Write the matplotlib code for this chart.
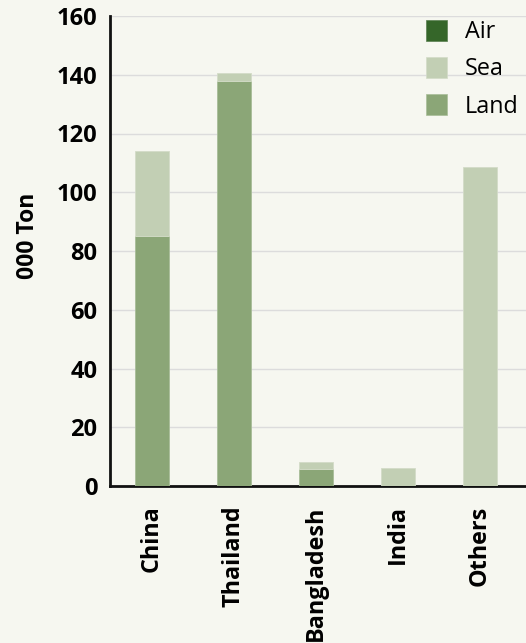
import matplotlib
matplotlib.use("Agg")
import matplotlib.pyplot as plt
from matplotlib.patches import Patch
import numpy as np

categories = ["China", "Thailand", "Bangladesh", "India", "Others"]
land = [85, 138, 5.8, 0, 0]
sea = [29, 2.6, 2.4, 6.2, 108.7]
air = [0, 0, 0, 0, 0]
yticks = [0, 20, 40, 60, 80, 100, 120, 140, 160]

c_air = "#356629"
c_sea = "#c2cfb4"
c_land = "#8ba677"
bg = "#f6f7f0"

plt.rcParams["font.family"] = ["Open Sans", "DejaVu Sans"]

fig = plt.figure(figsize=(5.26, 6.43), dpi=100, facecolor=bg)
ax = fig.add_axes([110/526, 1-486/643, 1-110/526, (486-16)/643])
ax.set_facecolor(bg)

x = np.arange(len(categories))
w = 0.41
land_a = np.array(land)
sea_a = np.array(sea)
air_a = np.array(air)
ax.bar(x, land_a, w, color=c_land, edgecolor="#a8bd98", linewidth=0.6, zorder=3)
ax.bar(x, sea_a, w, bottom=land_a, color=c_sea, edgecolor="#d3dcc8", linewidth=0.6, zorder=3)
ax.bar(x, air_a, w, bottom=land_a + sea_a, color=c_air, linewidth=0, zorder=3)

ax.set_xlim(-0.51, 4.56)
ax.set_ylim(0, 160)
ax.set_yticks(yticks)
ax.set_yticklabels([str(v) for v in yticks], fontsize=17, fontweight="bold")
ax.set_xticks(x)
ax.set_xticklabels(categories, rotation=90, fontsize=16.8, fontweight="bold")
ax.tick_params(axis="both", length=0, pad=9)
ax.tick_params(axis="x", pad=14)
ax.grid(axis="y", color="#dcdcdc", linewidth=1, zorder=0)
for s in ["top", "right"]:
    ax.spines[s].set_visible(False)
for s in ["left", "bottom"]:
    ax.spines[s].set_color("#111111")
    ax.spines[s].set_linewidth(2)

ax.set_ylabel("000 Ton", fontsize=16.5, fontweight="bold")
ax.yaxis.set_label_coords(-0.168, 0.532)

handles = [Patch(facecolor=c_air, edgecolor="#5a8050", linewidth=0.5),
           Patch(facecolor=c_sea, edgecolor="#d3dcc8", linewidth=0.5),
           Patch(facecolor=c_land, edgecolor="#a8bd98", linewidth=0.5)]
leg = ax.legend(handles, ["Air", "Sea", "Land"], loc="upper right",
                bbox_to_anchor=(1.0, 1.008), frameon=False, fontsize=16.8,
                handlelength=0.93, handleheight=1.0, handletextpad=0.75,
                labelspacing=0.55, borderaxespad=0.22, borderpad=0.1)

fig.savefig("out.png", dpi=100, facecolor=bg)
